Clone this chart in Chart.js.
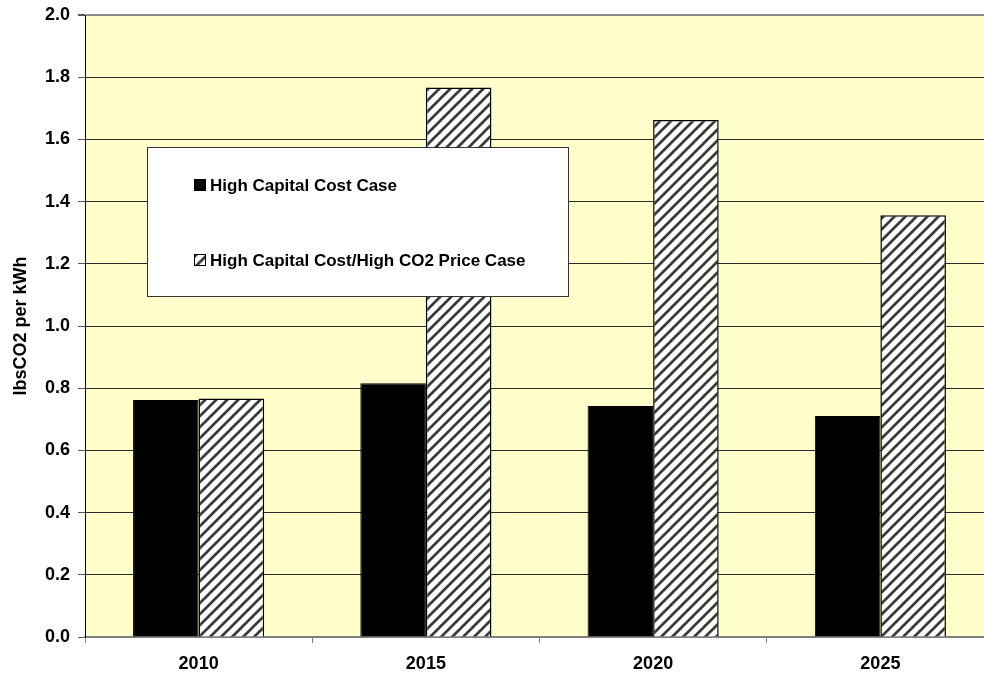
<!DOCTYPE html>
<html>
<head>
<meta charset="utf-8">
<script src="https://cdn.jsdelivr.net/npm/chart.js@4/dist/chart.umd.min.js"></script>
<style>
  html, body { margin: 0; padding: 0; background: #ffffff; overflow: hidden; }
  #wrap { width: 994px; height: 677px; }
</style>
</head>
<body>
<div id="wrap"><canvas id="c" width="994" height="677"></canvas></div>
<script>
// ---- data ----
const categories = ['2010', '2015', '2020', '2025'];
const seriesLabels = ['High Capital Cost Case', 'High Capital Cost/High CO2 Price Case'];
const highCapitalCost = [0.762, 0.816, 0.743, 0.711];
const highCapitalCostCO2 = [0.767, 1.767, 1.662, 1.356];
const yAxisTitle = 'lbsCO2 per kWh';
const yMin = 0, yMax = 2.0, yStep = 0.2;

const FONT = '"Liberation Sans", Arial, sans-serif';

function makeHatch() {
  const c = document.createElement('canvas');
  c.width = 11; c.height = 11;
  const g = c.getContext('2d');
  g.fillStyle = '#ffffff';
  g.fillRect(0, 0, 11, 11);
  g.strokeStyle = '#3a3a3a';
  g.lineWidth = 2.7;
  g.beginPath();
  g.moveTo(-5.5, 5.5); g.lineTo(5.5, -5.5);
  g.moveTo(0, 11); g.lineTo(11, 0);
  g.moveTo(5.5, 16.5); g.lineTo(16.5, 5.5);
  g.stroke();
  return g.createPattern(c, 'repeat');
}
const hatch = makeHatch();

const plotBg = {
  id: 'plotBg',
  beforeDraw(chart) {
    const { ctx, chartArea: a } = chart;
    ctx.save();
    ctx.fillStyle = '#FFFFCC';
    ctx.fillRect(a.left, a.top, a.right - a.left, a.bottom - a.top);
    ctx.restore();
  }
};

const boxLegend = {
  id: 'boxLegend',
  afterDatasetsDraw(chart) {
    const ctx = chart.ctx;
    const bx = 147, by = 147, bw = 422, bh = 150;
    ctx.save();
    ctx.fillStyle = '#ffffff';
    ctx.fillRect(bx, by, bw, bh);
    ctx.strokeStyle = '#333333';
    ctx.lineWidth = 1;
    ctx.strokeRect(bx + 0.5, by + 0.5, bw - 1, bh - 1);
    const rows = [185, 260];
    chart.data.datasets.forEach((ds, i) => {
      const y = rows[i];
      ctx.fillStyle = ds.backgroundColor;
      ctx.fillRect(194, y - 6, 12, 12);
      ctx.strokeStyle = '#000';
      ctx.lineWidth = 1;
      ctx.strokeRect(194.5, y - 5.5, 11, 11);
      ctx.fillStyle = '#000';
      ctx.font = 'bold 17px ' + FONT;
      ctx.textBaseline = 'middle';
      ctx.textAlign = 'left';
      ctx.fillText(ds.label, 210, y + 1);
    });
    ctx.restore();
  }
};

new Chart(document.getElementById('c'), {
  type: 'bar',
  data: {
    labels: categories,
    datasets: [
      { label: seriesLabels[0], data: highCapitalCost, backgroundColor: '#000000', borderColor: '#000000', borderWidth: 1 },
      { label: seriesLabels[1], data: highCapitalCostCO2, backgroundColor: hatch, borderColor: '#000000', borderWidth: 1.5 }
    ]
  },
  options: {
    responsive: false,
    animation: false,
    layout: { padding: { top: 15, right: 0, bottom: 0, left: 0 } },
    datasets: { bar: { categoryPercentage: 0.577, barPercentage: 1.0 } },
    plugins: { legend: { display: false }, tooltip: { enabled: false } },
    scales: {
      x: {
        offset: true,
        grid: { display: true, drawOnChartArea: false, offset: true, tickLength: 6, color: '#808080' },
        border: { display: true, color: '#808080', width: 2 },
        ticks: { color: '#000', font: { family: FONT, size: 18, weight: 'bold' }, padding: 10, maxRotation: 0 },
        afterFit(scale) { scale.height = 40; scale.paddingLeft = 0; scale.paddingRight = 0; }
      },
      y: {
        min: yMin, max: yMax,
        ticks: {
          stepSize: yStep, color: '#000', padding: 8,
          font: { family: FONT, size: 18, weight: 'bold' },
          callback: v => Number(v).toFixed(1)
        },
        grid: {
          tickLength: 7,
          color: c => (c.tick && (Math.abs(c.tick.value - yMax) < 1e-9 || c.tick.value === 0)) ? '#8c8c8c' : '#2a2a2a',
          lineWidth: c => (c.tick && Math.abs(c.tick.value - yMax) < 1e-9) ? 2 : 1,
          tickColor: '#555'
        },
        border: { display: true, color: '#000', width: 1 },
        title: {
          display: true, text: yAxisTitle, color: '#000',
          font: { family: FONT, size: 18, weight: 'bold' },
          padding: { top: 10, bottom: 0 }
        },
        afterFit(scale) { scale.width = 85; scale.paddingTop = 0; scale.paddingBottom = 0; }
      }
    }
  },
  plugins: [plotBg, boxLegend]
});
</script>
</body>
</html>
